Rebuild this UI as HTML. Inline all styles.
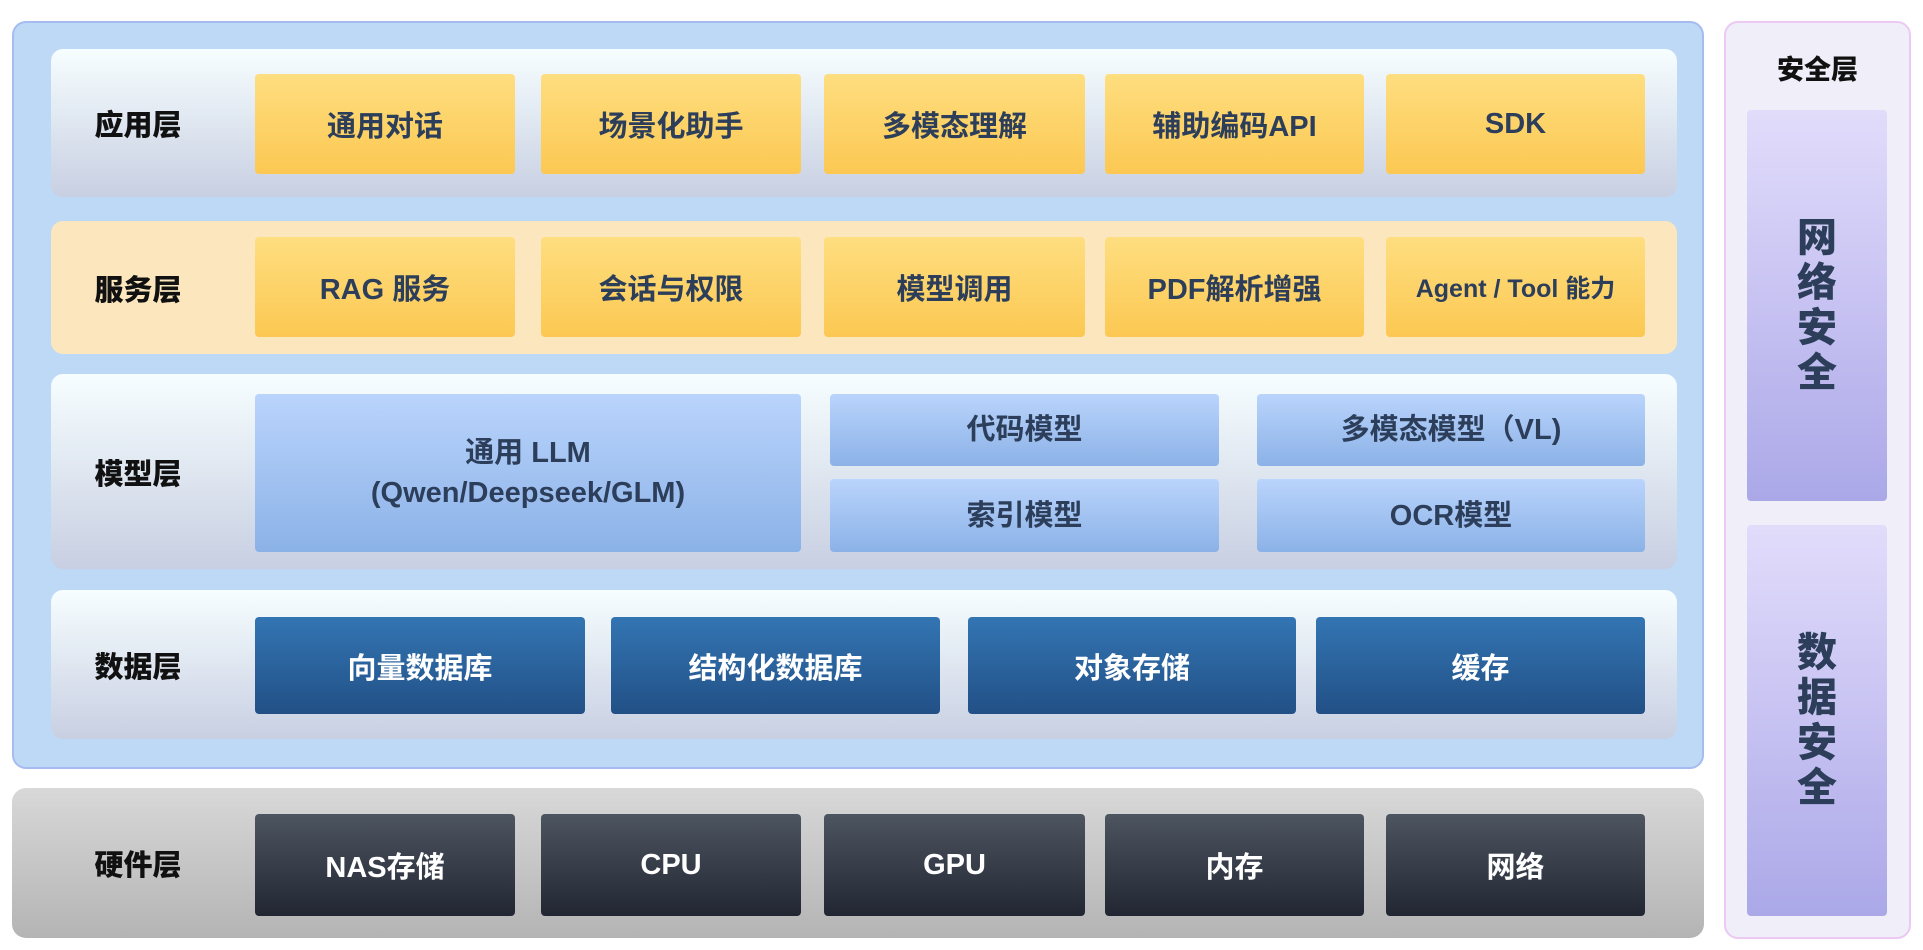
<!DOCTYPE html><html><head><meta charset="utf-8"><style>
body{margin:0;width:1923px;height:950px;background:#fff;position:relative;overflow:hidden;font-family:"Liberation Sans","Noto Sans CJK SC",sans-serif;font-weight:bold}
div{position:absolute;box-sizing:border-box}
.c{display:flex;align-items:center;justify-content:center;text-align:center}
.row{left:51px;width:1626px;border-radius:12px;background:linear-gradient(#f6feff,#c8cfe2)}
.lab{left:51px;width:174px;font-size:29px;color:#111;font-weight:900}
.y{background:linear-gradient(#fede80,#fcc852);border-radius:4px;color:#2c3e5a;font-size:29px}
.b{background:linear-gradient(#bad4fc,#8bb2e7);border-radius:4px;color:#2c3e5a;font-size:29px;line-height:40px}
.d{background:linear-gradient(#3375b3,#225086);border-radius:4px;color:#fff;font-size:29px}
.h{background:linear-gradient(#4d5561,#212632);border-radius:4px;color:#fff;font-size:29px}
</style></head><body>
<div style="left:12px;top:21px;width:1692px;height:748px;background:#bed9f5;border:2px solid #a6bbef;border-radius:14px"></div>
<div class="row" style="top:49px;height:148px"></div>
<div class="row" style="top:221px;height:133px;background:#fbe6be"></div>
<div class="row" style="top:374px;height:195px"></div>
<div class="row" style="top:590px;height:149px"></div>
<div style="left:12px;top:788px;width:1692px;height:150px;border-radius:14px;background:linear-gradient(#d8d8d8,#b4b4b4)"></div>

<div class="lab c" style="top:49px;height:148px">应用层</div>
<div class="lab c" style="top:221px;height:133px">服务层</div>
<div class="lab c" style="top:374px;height:195px">模型层</div>
<div class="lab c" style="top:590px;height:149px">数据层</div>
<div class="lab c" style="top:788px;height:150px">硬件层</div>

<div class="y c" style="left:255px;top:74px;width:260px;height:100px">通用对话</div>
<div class="y c" style="left:541px;top:74px;width:260px;height:100px">场景化助手</div>
<div class="y c" style="left:824px;top:74px;width:261px;height:100px">多模态理解</div>
<div class="y c" style="left:1105px;top:74px;width:259px;height:100px">辅助编码API</div>
<div class="y c" style="left:1386px;top:74px;width:259px;height:100px">SDK</div>

<div class="y c" style="left:255px;top:237px;width:260px;height:100px">RAG 服务</div>
<div class="y c" style="left:541px;top:237px;width:260px;height:100px">会话与权限</div>
<div class="y c" style="left:824px;top:237px;width:261px;height:100px">模型调用</div>
<div class="y c" style="left:1105px;top:237px;width:259px;height:100px">PDF解析增强</div>
<div class="y c" style="left:1386px;top:237px;width:259px;height:100px;font-size:25px">Agent / Tool 能力</div>

<div class="b c" style="left:255px;top:394px;width:546px;height:158px">通用 LLM<br>(Qwen/Deepseek/GLM)</div>
<div class="b c" style="left:830px;top:394px;width:389px;height:72px">代码模型</div>
<div class="b c" style="left:1257px;top:394px;width:388px;height:72px">多模态模型（VL)</div>
<div class="b c" style="left:830px;top:479px;width:389px;height:73px">索引模型</div>
<div class="b c" style="left:1257px;top:479px;width:388px;height:73px">OCR模型</div>

<div class="d c" style="left:255px;top:617px;width:330px;height:97px">向量数据库</div>
<div class="d c" style="left:611px;top:617px;width:329px;height:97px">结构化数据库</div>
<div class="d c" style="left:968px;top:617px;width:328px;height:97px">对象存储</div>
<div class="d c" style="left:1316px;top:617px;width:329px;height:97px">缓存</div>

<div class="h c" style="left:255px;top:814px;width:260px;height:102px">NAS存储</div>
<div class="h c" style="left:541px;top:814px;width:260px;height:102px">CPU</div>
<div class="h c" style="left:824px;top:814px;width:261px;height:102px">GPU</div>
<div class="h c" style="left:1105px;top:814px;width:259px;height:102px">内存</div>
<div class="h c" style="left:1386px;top:814px;width:259px;height:102px">网络</div>

<div style="left:1724px;top:21px;width:187px;height:918px;background:#f0eef8;border:2px solid #ebc9f2;border-radius:14px"></div>
<div class="c" style="left:1724px;top:45px;width:187px;height:44px;font-size:27px;color:#111;font-weight:900">安全层</div>
<div class="c" style="left:1747px;top:110px;width:140px;height:391px;border-radius:4px;background:linear-gradient(#e2dcfb,#aba8e8);color:#2c3e5a;font-size:40px;line-height:45px;font-weight:900">网<br>络<br>安<br>全</div>
<div class="c" style="left:1747px;top:525px;width:140px;height:391px;border-radius:4px;background:linear-gradient(#e2dcfb,#aba8e8);color:#2c3e5a;font-size:40px;line-height:45px;font-weight:900">数<br>据<br>安<br>全</div>
</body></html>
